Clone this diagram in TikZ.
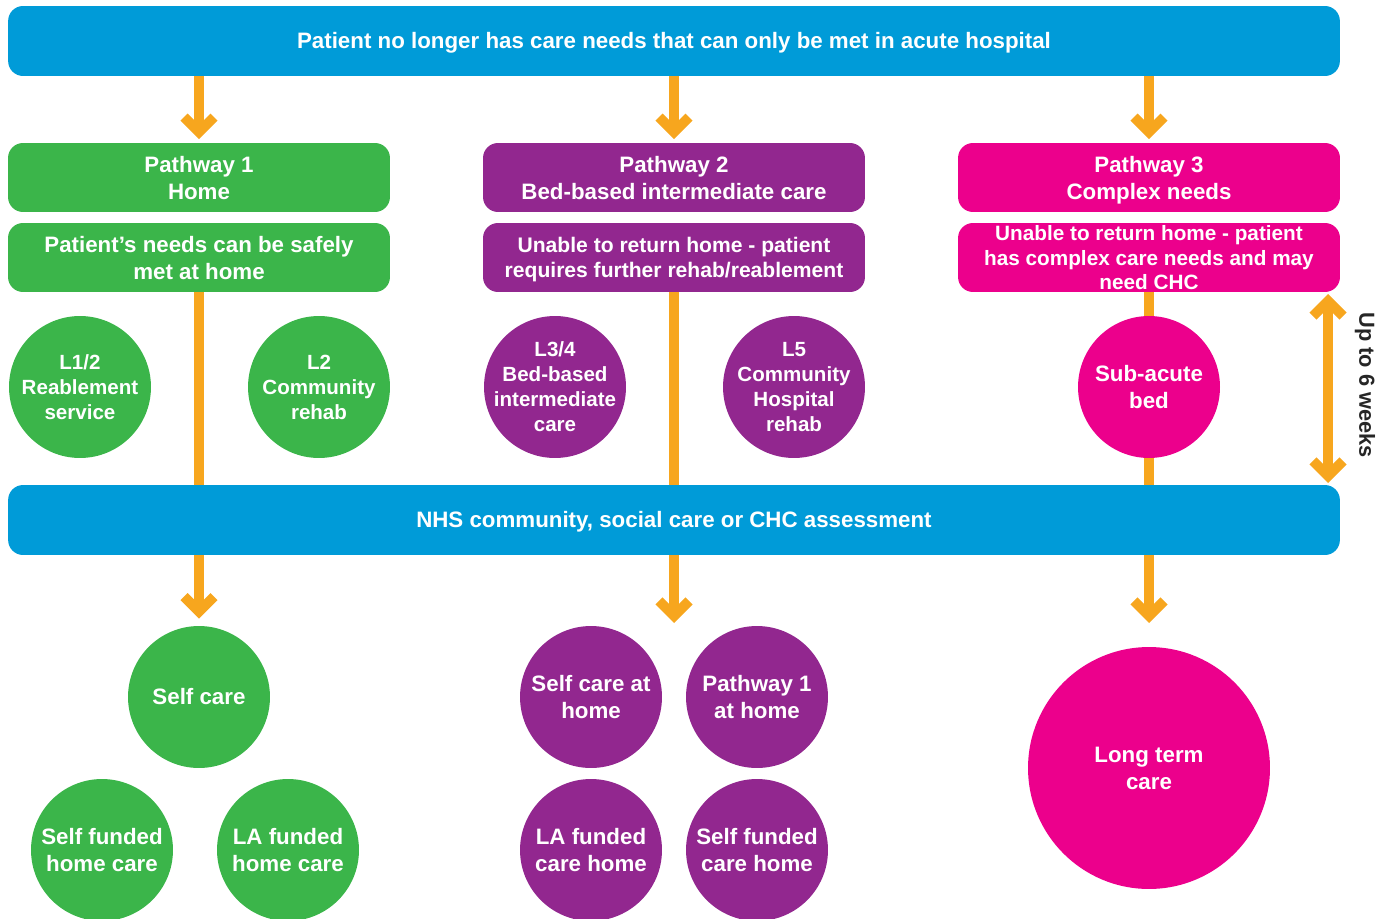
\documentclass[tikz,border=0pt]{standalone}
\usepackage{fontspec}
\setmainfont{Liberation Sans}
\usetikzlibrary{arrows.meta}

\definecolor{nhsblue}{RGB}{0,155,216}
\definecolor{pwgreen}{RGB}{59,181,74}
\definecolor{pwpurple}{RGB}{146,39,143}
\definecolor{pwpink}{RGB}{236,0,140}
\definecolor{flowor}{RGB}{247,166,30}

\newcommand{\bigtxt}{\fontsize{12.7}{15.3}\selectfont\bfseries}
\newcommand{\midtxt}{\fontsize{12}{14.2}\selectfont\bfseries}
\newcommand{\smalltxt}{\fontsize{11.7}{14.2}\selectfont\bfseries}

\begin{document}
\begin{tikzpicture}[x=0.02cm, y=-0.02cm,
    bar/.style={fill=nhsblue, rounded corners=0.3cm, minimum width=26.64cm, minimum height=1.4cm, text height=9pt, text depth=0pt, text=white, font=\bigtxt},
    pathbox/.style={rounded corners=0.3cm, minimum width=7.64cm, minimum height=1.38cm, inner sep=0pt, text depth=0pt, text=white, align=center, font=\bigtxt},
    ball/.style={circle, minimum size=2.84cm, inner sep=-0.4cm, text=white, align=center, font=\smalltxt},
    outball/.style={ball, font=\bigtxt},
    link/.style={draw=flowor, line width=0.2cm},
    flow/.style={link, -{Straight Barb[length=0.3cm,width=0.6cm]}}]

  \useasboundingbox (0,0) rectangle (1389,919);

  % top and middle bars
  \node[bar] (top) at (674,41) {Patient no longer has care needs that can only be met in acute hospital};
  \node[bar] (nhs) at (674,520) {NHS community, social care or CHC assessment};

  % the three pathways
  \node[pathbox, fill=pwgreen] (p1) at (199,177.5) {Pathway 1\\Home};
  \node[pathbox, fill=pwgreen] (p1d) at (199,257.5) {Patient’s needs can be safely\\met at home};
  \node[pathbox, fill=pwpurple] (p2) at (674,177.5) {Pathway 2\\Bed-based intermediate care};
  \node[pathbox, fill=pwpurple, font=\midtxt] (p2d) at (674,257.5) {Unable to return home - patient\\requires further rehab/reablement};
  \node[pathbox, fill=pwpink] (p3) at (1149,177.5) {Pathway 3\\Complex needs};
  \node[pathbox, fill=pwpink, font=\fontsize{11.8}{14.2}\selectfont\bfseries] (p3d) at (1149,257.5) {Unable to return home - patient\\has complex care needs and may\\need CHC};

  % services
  \node[ball, fill=pwgreen] (l12) at (80,387) {L1/2\\Reablement\\service};
  \node[ball, fill=pwgreen] (l2) at (319,387) {L2\\Community\\rehab};
  \node[ball, fill=pwpurple] (l34) at (555,387) {L3/4\\Bed-based\\intermediate\\care};
  \node[ball, fill=pwpurple] (l5) at (794,387) {L5\\Community\\Hospital\\rehab};
  \node[ball, fill=pwpink, font=\bigtxt] (sub) at (1149,387) {Sub-acute\\bed};

  % outcomes
  \node[outball, fill=pwgreen] (self) at (199,697) {Self care};
  \node[outball, fill=pwgreen] (sfhc) at (102,850) {Self funded\\home care};
  \node[outball, fill=pwgreen] (lahc) at (288,850) {LA funded\\home care};
  \node[outball, fill=pwpurple] (scah) at (591,697) {Self care at\\home};
  \node[outball, fill=pwpurple] (p1ah) at (757,697) {Pathway 1\\at home};
  \node[outball, fill=pwpurple] (lach) at (591,850) {LA funded\\care home};
  \node[outball, fill=pwpurple] (sfch) at (757,850) {Self funded\\care home};
  \node[outball, fill=pwpink, minimum size=4.84cm] (ltc) at (1149,768) {Long term\\care};

  \coordinate (d2) at (674,623);
  \coordinate (d3) at (1149,623);
  \coordinate (wk1) at (1328,294);
  \coordinate (wk2) at (1328,483);

  % arrows
  \draw[flow, shorten >=2] (top.south -| p1.north) -- (p1.north);
  \draw[flow, shorten >=2] (top.south -| p2.north) -- (p2.north);
  \draw[flow, shorten >=2] (top.south -| p3.north) -- (p3.north);
  \draw[link] (p1d.south) -- (nhs.north -| p1d.south);
  \draw[link] (p2d.south) -- (nhs.north -| p2d.south);
  \draw[link] (p3d.south) -- (sub.north);
  \draw[link] (sub.south) -- (nhs.north -| sub.south);
  \draw[flow, shorten >=4] (nhs.south -| self.north) -- (self.north);
  \draw[flow] (nhs.south -| d2) -- (d2);
  \draw[flow] (nhs.south -| d3) -- (d3);
  \draw[link, {Straight Barb[length=0.3cm,width=0.6cm]}-{Straight Barb[length=0.3cm,width=0.6cm]}] (wk1) -- (wk2);
  \node[rotate=-90, font=\fontsize{12.4}{14}\selectfont\bfseries, text=black!85] (wk) at (1365,385) {Up to 6 weeks};
\end{tikzpicture}
\end{document}
